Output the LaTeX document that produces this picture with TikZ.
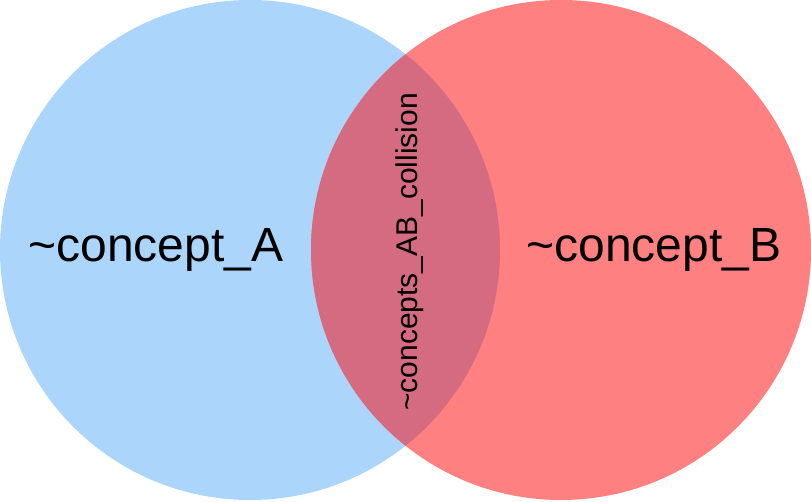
\documentclass[tikz,border=0pt]{standalone}
\usepackage{fontspec}
\setmainfont{Liberation Sans}
\definecolor{setblue}{RGB}{172,213,252}
\definecolor{setred}{RGB}{255,128,128}
\definecolor{setboth}{RGB}{212,107,128}

\begin{document}
\begin{tikzpicture}[
    x=1pt, y=1pt,
    set/.style={circle, minimum size=500pt, inner sep=0pt},
    big label/.style={font=\fontsize{48}{52}\selectfont},
    small label/.style={font=\fontsize{30}{34}\selectfont, rotate=90}
  ]
  \useasboundingbox (0,0) rectangle (811,501);
  \node[set, fill=setblue] (a) at (250,251) {};
  \node[set, fill=setred] (b) at (561,251) {};
  \begin{scope}
    \clip (250,251) circle (250);
    \fill[setboth] (561,251) circle (250);
  \end{scope}
  \node[big label] (la) at (156,251) {\textasciitilde concept\_A};
  \node[big label] (lb) at (654,251) {\textasciitilde concept\_B};
  \node[small label] (lab) at (410,249) {\textasciitilde concepts\_AB\_collision};
\end{tikzpicture}
\end{document}
